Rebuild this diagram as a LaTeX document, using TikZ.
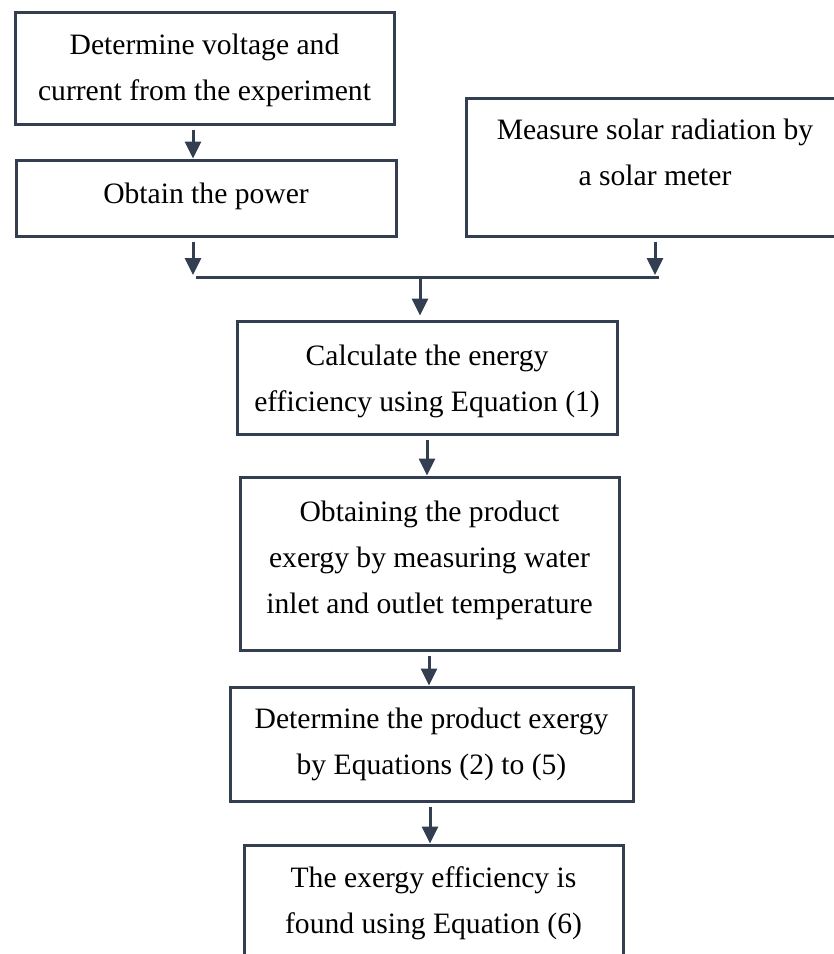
\documentclass[tikz,border=0pt]{standalone}
\usepackage{fontspec}
\setmainfont{Liberation Serif}
\usetikzlibrary{arrows.meta,calc}
\definecolor{lc}{HTML}{333F50}
\newcommand{\bxtext}[2]{\raisebox{#1}[\height][\depth]{\begin{tabular}{@{}c@{}}#2\end{tabular}}}
\tikzset{
  box/.style={draw=lc, line width=1.5pt, rectangle, inner sep=0pt,
    font=\fontsize{14.8}{23}\selectfont, text=black},
  arr/.style={draw=lc, line width=1.5pt, -{Triangle[width=8pt,length=8.5pt]}, shorten <=2pt},
  jline/.style={draw=lc, line width=1.5pt}
}
\begin{document}
\begin{tikzpicture}[x=0.5pt,y=-0.5pt]
\useasboundingbox (0,0) rectangle (834,954);
\clip (0,0) rectangle (834,954);
\node[box, minimum width=379*0.5pt, minimum height=112*0.5pt] (b1) at (204.5,68)
  {\bxtext{0pt}{Determine voltage and\\current from the experiment}};
\node[box, minimum width=380*0.5pt, minimum height=76*0.5pt] (b2) at (206,198)
  {\bxtext{2pt}{Obtain the power}};
\node[box, minimum width=378*0.5pt, minimum height=138*0.5pt] (b3) at (655,167)
  {\bxtext{6.75pt}{Measure solar radiation by\\a solar meter}};
\node[box, minimum width=380*0.5pt, minimum height=113*0.5pt] (b4) at (427,377.5)
  {\bxtext{-0.8pt}{Calculate the energy\\efficiency using Equation (1)}};
\node[box, minimum width=379*0.5pt, minimum height=173*0.5pt] (b5) at (429.5,563.5)
  {\bxtext{2.85pt}{Obtaining the product\\exergy by measuring water\\inlet and outlet temperature}};
\node[box, minimum width=403*0.5pt, minimum height=114*0.5pt] (b6) at (431.5,744)
  {\bxtext{1pt}{Determine the product exergy\\by Equations (2) to (5)}};
\node[box, minimum width=379*0.5pt, minimum height=114*0.5pt] (b7) at (433.5,902)
  {\bxtext{0.35pt}{The exergy efficiency is\\found using Equation (6)}};
% chain b1 -> b2
\path ($(b1.south)+(-11.5,0)$) coordinate (s1);
\draw[arr] (s1) -- (s1 |- b2.north);
% merge
\coordinate (t2) at (193,275);
\coordinate (t3) at (655,275);
\coordinate (jl) at (196,277);
\coordinate (jr) at (659,277);
\coordinate (jm) at (420,279);
\draw[arr] (b2.south -| t2) -- (t2);
\draw[arr] (b3.south -| t3) -- (t3);
\draw[jline] (jl) -- (jr);
\draw[arr, shorten <=0pt, shorten >=2pt] (jm) -- (jm |- b4.north);
% chain
\path (b4.south) coordinate (s4);
\draw[arr] (s4) -- (s4 |- b5.north);
\path ($(b5.south)+(-0.5,0)$) coordinate (s5);
\draw[arr] (s5) -- (s5 |- b6.north);
\path ($(b6.south)+(-1.5,0)$) coordinate (s6);
\draw[arr] (s6) -- (s6 |- b7.north);
\end{tikzpicture}
\end{document}
